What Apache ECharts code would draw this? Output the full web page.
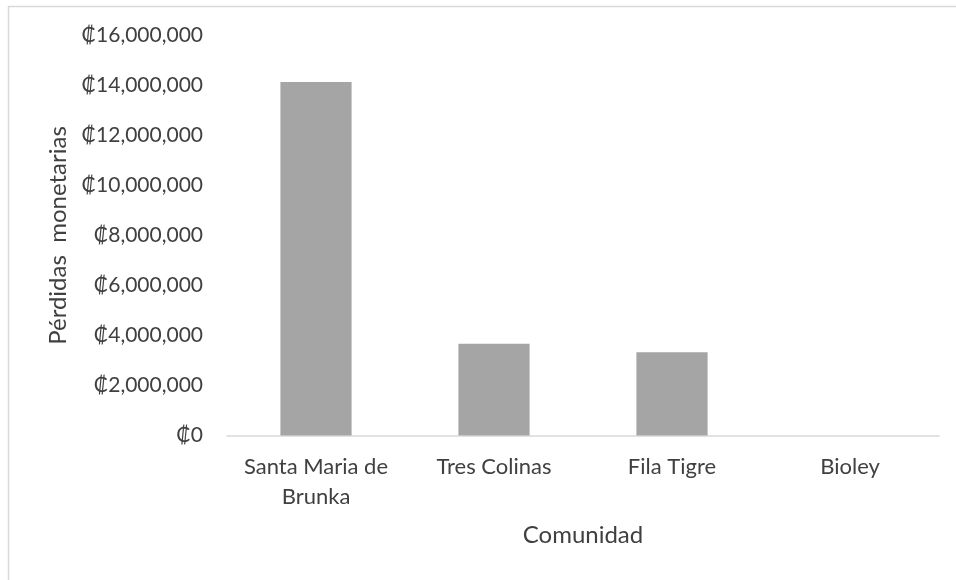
<!DOCTYPE html>
<html>
<head>
<meta charset="utf-8">
<script src="https://cdn.jsdelivr.net/npm/echarts@6/dist/echarts.min.js"></script>
<style>
  html, body { margin: 0; padding: 0; background: #fff; }
  #chart { width: 956px; height: 580px; }
</style>
</head>
<body>
<div id="chart"></div>
<script>
// Pérdidas monetarias por comunidad (colones)
const comunidades = ['Santa Maria de\nBrunka', 'Tres Colinas', 'Fila Tigre', 'Bioley'];
const perdidas = [14140000, 3670000, 3330000, 0];

const FONT = 'Lato, "Open Sans", sans-serif';
const TEXT = '#404040';

const fmtColones = v => '₡' + v.toLocaleString('en-US');

const chart = echarts.init(document.getElementById('chart'), null, { renderer: 'canvas' });
chart.setOption({
  backgroundColor: '#ffffff',
  animation: false,
  graphic: [{
    type: 'rect',
    shape: { x: 8.5, y: 6.5, width: 1000, height: 1000 },
    style: { fill: 'none', stroke: '#d9d9d9', lineWidth: 1.5 },
    silent: true
  }],
  grid: { left: 227, right: 17, top: 35.5, bottom: 144.5, containLabel: false },
  xAxis: {
    type: 'category',
    data: comunidades,
    name: 'Comunidad',
    nameLocation: 'middle',
    nameGap: 87.5,
    nameTextStyle: { fontFamily: FONT, fontSize: 24, color: TEXT },
    axisLine: { show: true, lineStyle: { color: '#d9d9d9', width: 1.5 } },
    axisTick: { show: false },
    axisLabel: {
      fontFamily: FONT, fontSize: 22, color: TEXT, margin: 16.5, lineHeight: 30,
      interval: 0
    }
  },
  yAxis: {
    type: 'value',
    min: 0,
    max: 16000000,
    interval: 2000000,
    name: 'Pérdidas  monetarias',
    nameLocation: 'middle',
    nameGap: 156,
    nameRotate: 90,
    nameTextStyle: { fontFamily: FONT, fontSize: 24, color: TEXT },
    axisLine: { show: false },
    axisTick: { show: false },
    splitLine: { show: false },
    axisLabel: {
      fontFamily: FONT, fontSize: 21, color: TEXT, margin: 24,
      formatter: fmtColones
    }
  },
  series: [{
    type: 'bar',
    data: perdidas,
    barCategoryGap: '60%',
    itemStyle: { color: '#a5a5a5' }
  }]
});
</script>
</body>
</html>
